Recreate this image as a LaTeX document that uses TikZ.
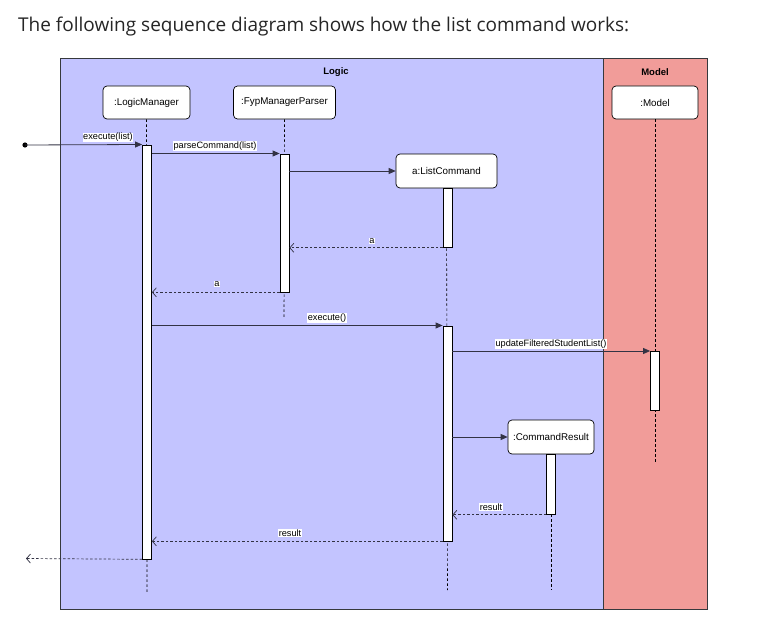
\documentclass[tikz,border=0pt]{standalone}
\usepackage{fontspec}
\setmainfont{Liberation Sans}
\newfontfamily\titlefont{Open Sans}
\usetikzlibrary{arrows.meta,calc}
\definecolor{logicfill}{HTML}{C3C4FF}
\definecolor{modelfill}{HTML}{F19C99}
\definecolor{frameline}{HTML}{36393D}
\definecolor{arrowline}{HTML}{333344}
\tikzset{
  frame/.style={draw=frameline, line width=0.9pt, minimum height=551pt, inner sep=0pt, anchor=north west},
  framelabel/.style={font=\bfseries\fontsize{9.5}{10}\selectfont, inner sep=0pt},
  obj/.style={draw=black, fill=white, rounded corners=4pt, minimum height=33pt, inner sep=0pt, line width=0.7pt, font=\fontsize{9.8}{11}\selectfont},
  actbar/.style={draw=black, fill=white, minimum width=9pt, inner sep=0pt, line width=0.8pt, anchor=north},
  life/.style={draw=black, dash pattern=on 2.5pt off 2.5pt, line width=0.6pt},
  call/.style={draw=arrowline, line width=0.8pt, -{Triangle[length=7pt,width=6pt]}},
  ret/.style={draw=arrowline, line width=0.7pt, dash pattern=on 2.5pt off 2pt, -{Straight Barb[length=4pt,width=9pt]}},
  lbl/.style={fill=white, inner sep=0.6pt, font=\fontsize{9.2}{10}\selectfont},
}
\begin{document}
\begin{tikzpicture}[x=1pt,y=-1pt]
\useasboundingbox (0,0) rectangle (775,623);
\fill[white] (0,0) rectangle (775,623);
% title
\node[anchor=base west, inner sep=0pt, text=black!85, font=\titlefont\fontsize{19}{22}\selectfont] (title) at (18,32) {The following sequence diagram shows how the list command works:};
% frames
\node[frame, fill=logicfill, minimum width=543pt] (logic) at (60,58) {};
\node[frame, fill=modelfill, minimum width=104pt] (model) at (603,58) {};
\node[framelabel] (logiclbl) at (336,72) {Logic};
\node[framelabel] (modellbl) at (655,72) {Model};
% objects
\node[obj, minimum width=87pt] (lm) at (146.5,102.5) {:LogicManager};
\node[obj, minimum width=102pt] (pp) at (284.5,102.5) {:FypManagerParser};
\node[obj, minimum width=86pt] (mo) at (655,102.5) {:Model};
\node[obj, minimum width=101pt, minimum height=34pt] (lc) at (446.5,171) {a:ListCommand};
\node[obj, minimum width=86pt, minimum height=34pt] (cr) at (551,437) {:CommandResult};
% lifeline ends
\coordinate (lmend) at (147,592);
\coordinate (ppend) at (284,318);
\coordinate (lcend) at (447.5,590);
\coordinate (crend) at (551,590);
\coordinate (moend) at (655,463);
\draw[life] (lm.south) -- (lmend);
\draw[life] (pp.south) -- (ppend);
\draw[life] (lc.south) -- (lcend);
\draw[life] (cr.south) -- (crend);
\draw[life] (mo.south) -- (moend);
% activation bars
\node[actbar, minimum height=414pt] (lmbar) at (147,144.5) {};
\node[actbar, minimum height=138pt] (ppbar) at (284.5,153.5) {};
\node[actbar, minimum height=59pt] (lcbar1) at (447.5,188) {};
\node[actbar, minimum height=215pt] (lcbar2) at (447.5,325.5) {};
\node[actbar, minimum height=59pt] (mbar) at (655,351) {};
\node[actbar, minimum height=60pt] (crbar) at (551,454) {};
% messages
\coordinate (src) at (25,145);
\fill[black] (src) circle (2.6pt);
\draw[call] (src) -- (lmbar.north west);
\node[lbl] (l1) at (108,137.5) {execute(list)};
\draw[call] (lmbar.east |- ppbar.north) -- (ppbar.north west);
\node[lbl] (l2) at (215,146) {parseCommand(list)};
\draw[call] (ppbar.east |- lc.west) -- (lc.west);
\draw[ret] (lcbar1.south west) -- (ppbar.east |- lcbar1.south);
\node[lbl] (l3) at (372,241) {a};
\draw[ret] (ppbar.south west) -- (lmbar.east |- ppbar.south);
\node[lbl] (l4) at (217,284) {a};
\draw[call] (lmbar.east |- lcbar2.north) -- (lcbar2.north west);
\node[lbl] (l5) at (327,318) {execute()};
\draw[call] (lcbar2.east |- mbar.north) -- (mbar.north west);
\node[lbl] (l6) at (551,344) {updateFilteredStudentList()};
\draw[call] (lcbar2.east |- cr.west) -- (cr.west);
\draw[ret] (crbar.south west) -- (lcbar2.east |- crbar.south);
\node[lbl] (l7) at (491,507) {result};
\draw[ret] (lcbar2.south west) -- (lmbar.east |- lcbar2.south);
\node[lbl] (l8) at (290,533) {result};
\coordinate (sink) at (26,558.5);
\draw[ret] (lmbar.south west) -- (sink);
\end{tikzpicture}
\end{document}
